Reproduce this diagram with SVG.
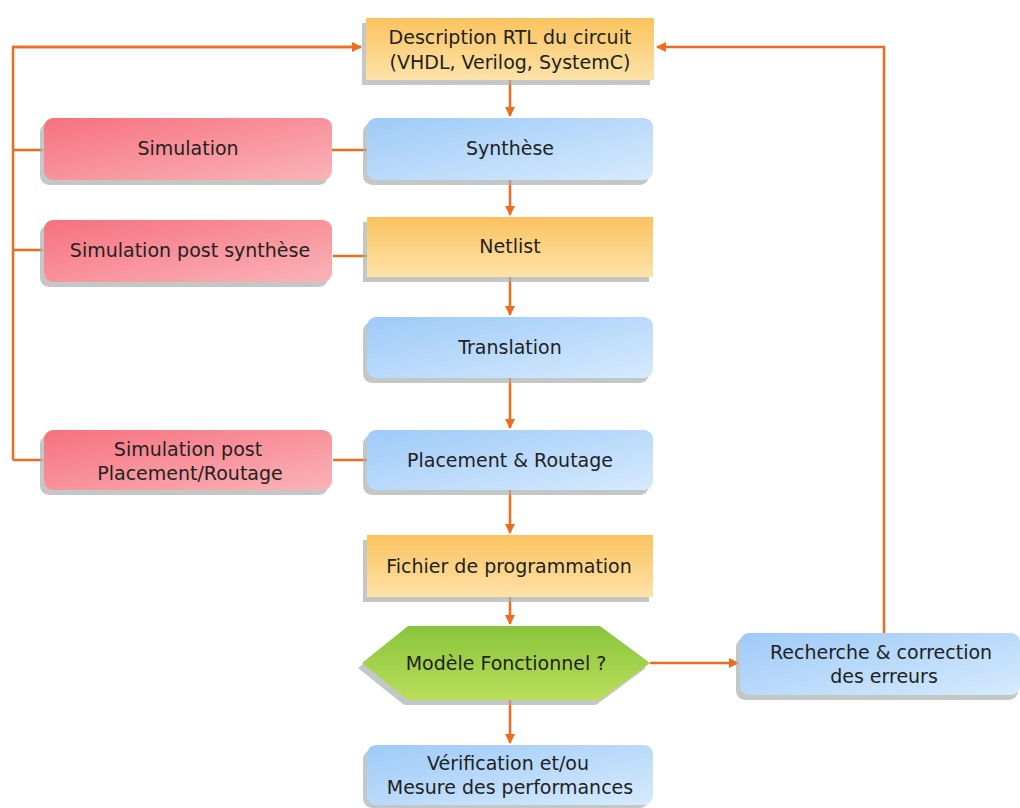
<svg xmlns="http://www.w3.org/2000/svg" width="1020" height="808" viewBox="0 0 1020 808">
<defs>
<linearGradient id="gOr" x1="0" y1="0" x2="0" y2="1"><stop offset="0" stop-color="#fbc35f"/><stop offset="1" stop-color="#fde2a9"/></linearGradient>
<linearGradient id="gBl" x1="0" y1="0" x2="1" y2="1"><stop offset="0" stop-color="#9ecaf8"/><stop offset="1" stop-color="#d6eafd"/></linearGradient>
<linearGradient id="gRd" x1="0" y1="0" x2="1" y2="1"><stop offset="0" stop-color="#f6717f"/><stop offset="1" stop-color="#fbb3b8"/></linearGradient>
<linearGradient id="gGr" x1="0" y1="0" x2="0" y2="1"><stop offset="0" stop-color="#8ac43c"/><stop offset="1" stop-color="#b9de5a"/></linearGradient>
<marker id="ah" viewBox="0 0 10 10" refX="9" refY="5" markerWidth="4" markerHeight="4" orient="auto" markerUnits="strokeWidth"><path d="M0,0 L10,5 L0,10 z" fill="#ef6c1f"/></marker>
</defs>
<style>
.sh{fill:#aab0ae;opacity:0.7}
.or{fill:url(#gOr)}
.bl{fill:url(#gBl)}
.rd{fill:url(#gRd)}
.gr{fill:url(#gGr)}
.edge{stroke:#ef6c1f;stroke-width:2.5;fill:none}
.arr{marker-end:url(#ah)}
text{font-family:"DejaVu Sans",Verdana,sans-serif;font-size:19px;fill:#222;text-anchor:middle}
</style>
<rect width="1020" height="808" fill="#fff"/>
<g id="connectors">
<path class="edge" d="M13,460 V47 H361"/>
<path class="edge arr" d="M13,47 H361"/>
<path class="edge" d="M13,150 H43"/>
<path class="edge" d="M13,250 H43"/>
<path class="edge" d="M13,460 H43"/>
<path class="edge" d="M330,150 H367"/>
<path class="edge" d="M333,256 H367"/>
<path class="edge" d="M333,460 H367"/>
<path class="edge arr" d="M884,633 V47 H657"/>
<path class="edge arr" d="M510,80 V116"/>
<path class="edge arr" d="M510,180 V215"/>
<path class="edge arr" d="M510,277 V315"/>
<path class="edge arr" d="M510,378 V428"/>
<path class="edge arr" d="M510,490 V533"/>
<path class="edge arr" d="M510,597 V624"/>
<path class="edge arr" d="M510,700 V743"/>
<path class="edge arr" d="M650,663 H738"/>
</g>
<g id="n-rtl">
<rect class="sh" x="362" y="23" width="288" height="62"/>
<rect class="or" x="366" y="18" width="288" height="62"/>
<text x="510" y="44">Description RTL du circuit</text>
<text x="510" y="69">(VHDL, Verilog, SystemC)</text>
</g>
<g id="n-synth">
<rect class="sh" x="363" y="123" width="286" height="62" rx="9"/>
<rect class="bl" x="367" y="118" width="286" height="62" rx="9"/>
<text x="510" y="155">Synthèse</text>
</g>
<g id="n-sim">
<rect class="sh" x="40" y="123" width="288" height="62" rx="9"/>
<rect class="rd" x="44" y="118" width="288" height="62" rx="9"/>
<text x="188" y="155">Simulation</text>
</g>
<g id="n-netlist">
<rect class="sh" x="363" y="222" width="286" height="60"/>
<rect class="or" x="367" y="217" width="286" height="60"/>
<text x="510" y="253">Netlist</text>
</g>
<g id="n-simps">
<rect class="sh" x="40" y="225" width="288" height="62" rx="9"/>
<rect class="rd" x="44" y="220" width="288" height="62" rx="9"/>
<text x="190" y="257">Simulation post synthèse</text>
</g>
<g id="n-trans">
<rect class="sh" x="363" y="322" width="286" height="61" rx="9"/>
<rect class="bl" x="367" y="317" width="286" height="61" rx="9"/>
<text x="510" y="354">Translation</text>
</g>
<g id="n-pr">
<rect class="sh" x="363" y="435" width="286" height="60" rx="9"/>
<rect class="bl" x="367" y="430" width="286" height="60" rx="9"/>
<text x="510" y="467">Placement &amp; Routage</text>
</g>
<g id="n-simpr">
<rect class="sh" x="40" y="435" width="288" height="60" rx="9"/>
<rect class="rd" x="44" y="430" width="288" height="60" rx="9"/>
<text x="188" y="456">Simulation post</text>
<text x="190" y="480">Placement/Routage</text>
</g>
<g id="n-fichier">
<rect class="sh" x="363" y="540" width="286" height="62"/>
<rect class="or" x="367" y="535" width="286" height="62"/>
<text x="509" y="573">Fichier de programmation</text>
</g>
<g id="n-modele">
<polygon class="sh" points="358,668 404,631 596,631 646,668 596,705 404,705"/>
<polygon class="gr" points="362,663 408,626 600,626 650,663 600,700 408,700"/>
<text x="506" y="670">Modèle Fonctionnel ?</text>
</g>
<g id="n-recherche">
<rect class="sh" x="736" y="638" width="282" height="62" rx="9"/>
<rect class="bl" x="740" y="633" width="280" height="62" rx="9"/>
<text x="881" y="659">Recherche &amp; correction</text>
<text x="884" y="683">des erreurs</text>
</g>
<g id="n-verif">
<rect class="sh" x="363" y="750" width="286" height="58" rx="9"/>
<rect class="bl" x="367" y="745" width="286" height="60" rx="9"/>
<text x="508" y="770">Vérification et/ou</text>
<text x="510" y="794">Mesure des performances</text>
</g>
</svg>
